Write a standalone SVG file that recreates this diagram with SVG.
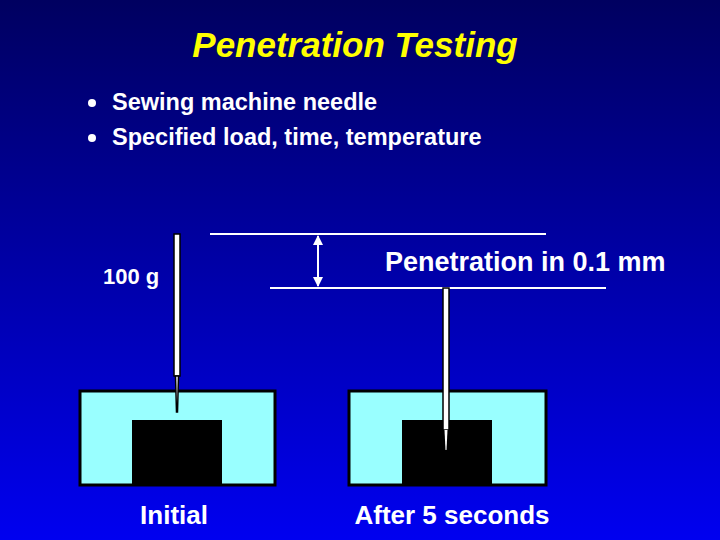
<svg xmlns="http://www.w3.org/2000/svg" width="720" height="540" viewBox="0 0 720 540">
<defs>
<linearGradient id="bg" x1="0" y1="0" x2="0" y2="1"><stop offset="0" stop-color="#000060"/><stop offset="1" stop-color="#0000f0"/></linearGradient>
<marker id="ah" viewBox="0 0 10 10" refX="9" refY="5" markerWidth="5" markerHeight="6" orient="auto-start-reverse"><path d="M0,0L10,5L0,10z" fill="#fff"/></marker>
<style>
.t{font-family:"Liberation Sans",Arial,sans-serif;font-weight:bold;fill:#fff}
.box{fill:#99ffff;stroke:#000;stroke-width:3}
.ln{stroke:#fff;stroke-width:2}
</style>
</defs>
<rect width="720" height="540" fill="url(#bg)"/>
<text x="355" y="57" text-anchor="middle" class="t" style="fill:#ffff00;font-style:italic;font-size:35px">Penetration Testing</text>
<circle cx="92" cy="103" r="4" fill="#fff"/><circle cx="92" cy="138" r="4" fill="#fff"/>
<text x="112" y="110" class="t" style="font-size:23.5px">Sewing machine needle</text>
<text x="112" y="145" class="t" style="font-size:23.5px">Specified load, time, temperature</text>
<text x="103" y="284" class="t" style="font-size:22px">100 g</text>
<text x="385" y="271" class="t" style="font-size:27px">Penetration in 0.1 mm</text>
<text x="174" y="524" text-anchor="middle" class="t" style="font-size:26px">Initial</text>
<text x="452" y="524" text-anchor="middle" class="t" style="font-size:26px">After 5 seconds</text>
<g id="connectors">
<line x1="210" y1="234" x2="546" y2="234" class="ln"/>
<line x1="270" y1="288" x2="606" y2="288" class="ln"/>
<line x1="318" y1="236" x2="318" y2="286" class="ln" marker-start="url(#ah)" marker-end="url(#ah)"/>
</g>
<g id="initial">
<rect x="80" y="391" width="195" height="94" class="box"/>
<rect x="132" y="420" width="90" height="65" fill="#000"/>
<rect x="174" y="234" width="6" height="142" fill="#fff" stroke="#000" stroke-width="1.5"/>
<path d="M175.5,376 L178.5,376 L177.5,412 L176.5,412 Z" fill="#fff" stroke="#000" stroke-width="1.5"/>
</g>
<g id="after">
<rect x="349" y="391" width="197" height="94" class="box"/>
<rect x="402" y="420" width="90" height="65" fill="#000"/>
<rect x="443" y="288" width="6" height="142" fill="#fff" stroke="#000" stroke-width="1.5"/>
<path d="M444.5,430 L447.5,430 L446.5,450 L445.5,450 Z" fill="#fff"/>
</g>
</svg>
